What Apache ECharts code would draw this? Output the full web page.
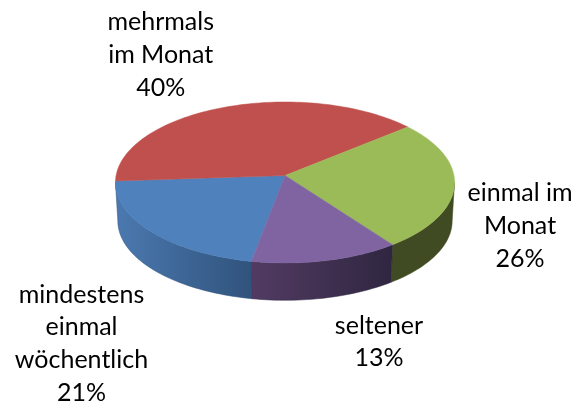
<!DOCTYPE html>
<html>
<head>
<meta charset="utf-8">
<style>html,body{margin:0;padding:0;background:#fff}#c{width:584px;height:403px}</style>
<script src="https://cdn.jsdelivr.net/npm/echarts@6/dist/echarts.min.js"></script>
</head>
<body>
<div id="c"></div>
<script>
// data
const categories = ['mindestens\neinmal\nwöchentlich', 'mehrmals\nim Monat', 'einmal im\nMonat', 'seltener'];
const values = [21, 40, 26, 13];
// style
const topColors = ['#4f81bd', '#c0504d', '#9bbb59', '#8064a2'];
const wallLight = ['#4b79b0', '#7a3230', '#414b23', '#523b63'];
const wallDark = ['#30537c', '#5e2624', '#414b23', '#2f2640'];
// label centres (px)
const labelX = [81.5, 160.7, 520, 379];
const labelY = [343.5, 55, 226, 342];
// projection of the tilted pie
const cx = 285, cy = 175.5, B = 168.9, A = 79.9, persp = 0.087;
const depth = 38.5, bottomScale = 0.986;
const startDeg = 100.5;
const total = values.reduce((a, b) => a + b, 0);

function project(deg, lower) {
  const t = deg * Math.PI / 180, s = Math.sin(t), d = 1 - persp * s;
  const f = lower ? bottomScale : 1;
  return [cx + f * B * Math.cos(t) / d, cy + (lower ? depth : 0) + f * A * s / d];
}
function arc(a, b, lower) {
  const n = Math.max(2, Math.ceil(Math.abs(b - a) / 1.5)), p = [];
  for (let i = 0; i <= n; i++) p.push(project(a + (b - a) * i / n, lower));
  return p;
}
function sliceRange(i) {
  let sum = 0;
  for (let k = 0; k < i; k++) sum += values[k];
  return [startDeg + sum / total * 360, startDeg + (sum + values[i]) / total * 360];
}
function visibleWall(a, b) {
  // front of the disc lies between 5 and 175 degrees (mod 360)
  const lo = 5, hi = 175;
  for (const off of [0, -360]) {
    const s = Math.max(a + off, lo), e = Math.min(b + off, hi);
    if (e > s) return [s, e];
  }
  return null;
}
const font = '25px Lato, Carlito, Calibri, sans-serif';

function renderItem(params, api) {
  const i = api.value(0);
  const [a, b] = sliceRange(i);
  const children = [];
  const w = visibleWall(a, b);
  if (w) {
    const up = arc(w[0], w[1], false), low = arc(w[0], w[1], true).reverse();
    const pts = up.concat(low), xs = pts.map(p => p[0]);
    children.push({
      type: 'polygon', z2: 1,
      shape: { points: pts },
      style: {
        lineWidth: 0.5,
        stroke: wallDark[i],
        fill: {
          type: 'linear', global: true,
          x: Math.min(...xs), y: 0, x2: Math.max(...xs), y2: 0,
          colorStops: [{ offset: 0, color: wallLight[i] }, { offset: 1, color: wallDark[i] }]
        }
      }
    });
  }
  children.push({
    type: 'polygon', z2: 2,
    shape: { points: [[cx, cy]].concat(arc(a, b, false)) },
    style: { fill: topColors[i], stroke: topColors[i], lineWidth: 0.5 }
  });
  children.push({
    type: 'text', z2: 3,
    style: {
      text: categories[i] + '\n' + api.value(1) + '%',
      x: labelX[i], y: labelY[i], align: 'center', verticalAlign: 'middle',
      font: font, lineHeight: 32.7, fill: '#000'
    }
  });
  return { type: 'group', children };
}

const chart = echarts.init(document.getElementById('c'), null, { renderer: 'canvas' });
chart.setOption({
  animation: false,
  backgroundColor: '#ffffff',
  series: [{
    type: 'custom',
    coordinateSystem: 'none',
    silent: true,
    renderItem,
    data: values.map((v, i) => [i, v])
  }]
});
</script>
</body>
</html>
